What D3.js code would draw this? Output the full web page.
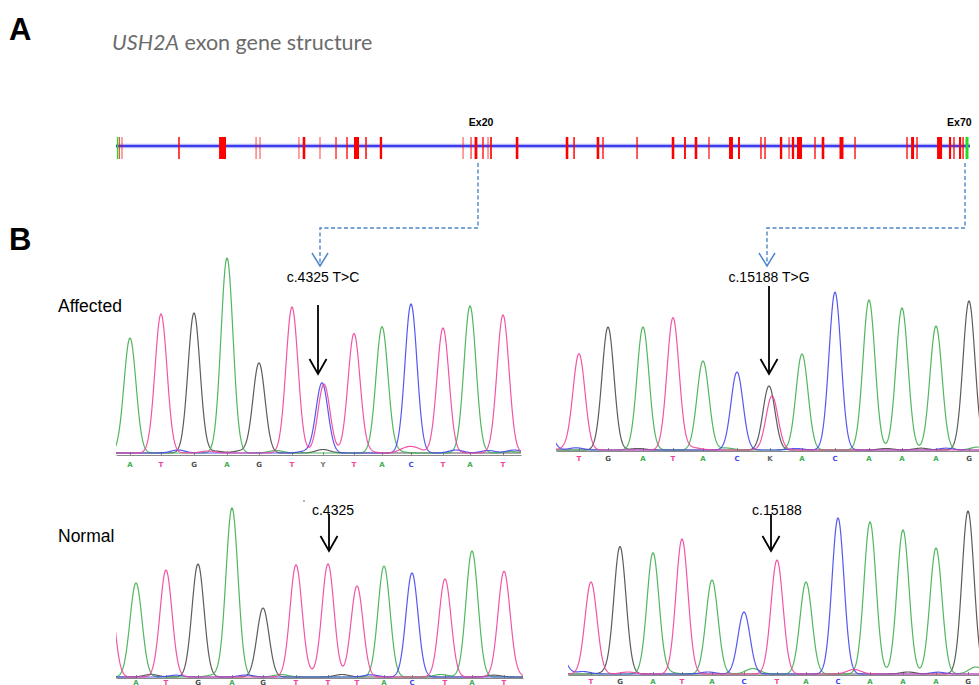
<!DOCTYPE html>
<html>
<head>
<meta charset="utf-8">
<script src="https://cdn.jsdelivr.net/npm/d3@7/dist/d3.min.js"></script>
<style>
  html, body { margin: 0; padding: 0; background: #fff; }
  svg { display: block; }
</style>
</head>
<body>
<svg id="fig" width="979" height="685"></svg>
<script>
// ---------------- DATA ----------------
// Gene structure (kb along USH2A)
const geneLengthKb = 800;
const utrCenters = [1.6, 797.2];
const utrLengths = [1.4, 2.8];
const exonCenters = [3.3, 5.6, 59.0, 99.8, 131.2, 134.9, 171.4, 176.1, 191.1, 206.1, 216.4, 225.3, 234.2, 248.2,
  325.1, 332.6, 337.2, 343.8, 348.5, 351.3, 375.7, 422.5, 429.1, 451.5, 456.2, 488.1, 521.8, 533.0, 543.3, 555.5,
  576.1, 583.6, 604.2, 608.0, 623.0, 630.5, 634.2, 640.3, 654.8, 662.3, 679.6, 692.3, 741.0, 746.2, 750.4,
  771.5, 781.3, 785.0, 790.7, 793.5];
const exonLengths = [1.0, 1.0, 1.5, 6.5, 1.0, 1.0, 1.0, 2.4, 1.0, 1.3, 1.4, 4.7, 1.5, 2.2,
  1.0, 1.2, 2.6, 1.4, 1.0, 1.6, 2.4, 2.4, 1.5, 2.4, 1.4, 1.4, 2.4, 1.7, 2.4, 1.3,
  3.7, 1.8, 1.4, 1.4, 2.2, 1.2, 2.2, 4.7, 1.4, 2.4, 3.7, 1.4, 1.4, 2.8, 1.4,
  4.7, 2.0, 1.4, 2.0, 1.4];
const exonLabels = ["Ex20", "Ex70"];
const exonLabelKb = [342.0, 790.0];

// Chromatograms: base calls, peak channel / scan position / signal
const affLBases = ["A","T","G","A","G","T","Y","T","A","C","T","A","T"];
const affLCallPos = [14, 45, 78, 111, 143, 176, 207, 238, 266, 295, 327, 354, 387];
const affLPeakCh  = ["A","T","G","A","G","T","C","T","T","A","C","T","A","T"];
const affLPeakPos = [14, 45, 78, 111, 143, 176, 206, 208, 238, 266, 295, 327, 354, 387];
const affLPeakSig = [1150, 1390, 1400, 1950, 900, 1460, 700, 690, 1190, 1260, 1490, 1250, 1470, 1380];
const affLNoiseCh  = ["C","T","G","A","G","T","T","C","C","A","A","C","G","T","C"];
const affLNoisePos = [62, 92, 125, 160, 207, 290, 300, 340, 372, 280, 395, 398, 100, 250, 190];
const affLNoiseSig = [30, 20, 22, 25, 35, 45, 40, 30, 25, 20, 15, 30, 18, 20, 18];

const affRBases = ["T","G","A","T","A","C","K","A","C","A","A","A","G"];
const affRCallPos = [23, 52, 87, 117, 147, 181, 214, 246, 279, 313, 346, 380, 413];
const affRPeakCh  = ["C","T","G","A","T","A","C","G","T","A","C","A","A","A","G"];
const affRPeakPos = [-10, 23, 52, 87, 117, 147, 181, 213, 216, 246, 279, 313, 346, 380, 413];
const affRPeakSig = [270, 960, 1230, 1230, 1320, 890, 780, 640, 540, 960, 1560, 1500, 1420, 1240, 1490];
const affRNoiseCh  = ["C","T","G","T","A","C","G","C","A","T","G","C"];
const affRNoisePos = [20, 10, 82, 130, 170, 280, 330, 390, 422, 140, 365, 240];
const affRNoiseSig = [22, 18, 15, 18, 20, 18, 15, 18, 30, 15, 18, 15];

const normLBases = ["A","T","G","A","G","T","T","T","A","C","T","A","T"];
const normLCallPos = [20, 50, 82, 116, 147, 180, 212, 241, 268, 296, 329, 356, 388];
const normLPeakCh  = ["T","A","T","G","A","G","T","T","T","A","C","T","A","T"];
const normLPeakPos = [-8, 20, 50, 82, 116, 147, 180, 212, 241, 268, 296, 329, 356, 388];
const normLPeakSig = [1000, 940, 1070, 1130, 1690, 690, 1120, 1130, 910, 1110, 1040, 980, 1260, 1050];
const normLNoiseCh  = ["G","C","A","C","A","T","G","C","A","G","T"];
const normLNoisePos = [35, 60, 98, 130, 165, 195, 226, 255, 325, 378, 398];
const normLNoiseSig = [25, 18, 20, 20, 25, 18, 25, 22, 25, 18, 20];

const normRBases = ["T","G","A","T","A","C","T","A","C","A","A","A","G"];
const normRCallPos = [23, 52, 85, 114, 144, 176, 209, 238, 270, 302, 335, 368, 400];
const normRPeakCh  = ["C","T","G","A","T","A","C","T","A","C","A","A","A","G"];
const normRPeakPos = [-8, 23, 52, 85, 114, 144, 176, 209, 238, 270, 302, 335, 368, 400];
const normRPeakSig = [200, 920, 1270, 1210, 1350, 940, 620, 1140, 920, 1560, 1520, 1440, 1260, 1630];
const normRNoiseCh  = ["A","T","C","G","C","A","T","G","A","C"];
const normRNoisePos = [185, 286, 15, 40, 140, 100, 60, 340, 408, 370];
const normRNoiseSig = [55, 45, 25, 20, 20, 18, 20, 20, 70, 18];

const mutationLabels = ["c.4325 T>C", "c.15188 T>G", "c.4325", "c.15188"];
const rowLabels = ["Affected", "Normal"];
const panelLetters = ["A", "B"];

// ---------------- DRAW ----------------
const svg = d3.select("#fig");
const W = 979, H = 685;
const baseColor = {A: "#3fae4f", T: "#f0449c", G: "#4a4a4a", C: "#4646ee", Y: "#777", K: "#666"};

// panel letters
svg.append("text").attr("x", 9).attr("y", 40).text(panelLetters[0])
  .attr("font-family", "Liberation Sans, Arial, sans-serif").attr("font-weight", "bold").attr("font-size", 31).attr("fill", "#000");
svg.append("text").attr("x", 9).attr("y", 250).text(panelLetters[1])
  .attr("font-family", "Liberation Sans, Arial, sans-serif").attr("font-weight", "bold").attr("font-size", 31).attr("fill", "#000");

// title
const title = svg.append("text").attr("x", 112).attr("y", 50)
  .attr("font-family", "Lato, 'Open Sans', sans-serif").attr("font-size", 21.5).attr("fill", "#6b6b6b");
title.append("tspan").attr("font-style", "italic").text("USH2A");
title.append("tspan").text(" exon gene structure");

// gene structure
const gx = d3.scaleLinear().domain([0, geneLengthKb]).range([116, 970]);
const geneY = 146;
const gene = svg.append("g");
gene.append("line").attr("x1", gx(0)).attr("x2", gx(geneLengthKb)).attr("y1", geneY).attr("y2", geneY)
  .attr("stroke", "#b4b4f6").attr("stroke-width", 4.5);
gene.append("line").attr("x1", gx(0)).attr("x2", gx(geneLengthKb)).attr("y1", geneY).attr("y2", geneY)
  .attr("stroke", "#3b3bf0").attr("stroke-width", 1.8);
gene.selectAll("rect.exon").data(exonCenters).join("rect").attr("class", "exon")
  .attr("x", (d, i) => gx(d - exonLengths[i] / 2))
  .attr("width", (d, i) => gx(exonLengths[i]) - gx(0))
  .attr("y", 137).attr("height", 22)
  .attr("fill", "#ff0000")
  .attr("fill-opacity", (d, i) => Math.min(1, 0.25 + (gx(exonLengths[i]) - gx(0)) / 2.4));
gene.selectAll("rect.utr").data(utrCenters).join("rect").attr("class", "utr")
  .attr("x", (d, i) => gx(d - utrLengths[i] / 2))
  .attr("width", (d, i) => gx(utrLengths[i]) - gx(0))
  .attr("y", 137).attr("height", 22).attr("fill", "#22dd22");
gene.selectAll("text.exlab").data(exonLabels).join("text").attr("class", "exlab")
  .attr("x", (d, i) => gx(exonLabelKb[i])).attr("y", 126).attr("text-anchor", "middle")
  .attr("font-family", "Liberation Sans, Arial, sans-serif").attr("font-weight", "bold").attr("font-size", 10.5)
  .text(d => d);

// dashed connectors
const dashColor = "#4f86c9";
const conn = [
  {x0: 478, x1: 320},
  {x0: 965, x1: 767}
];
conn.forEach(c => {
  svg.append("path")
    .attr("d", `M${c.x0},163 V228 H${c.x1} V265`)
    .attr("fill", "none").attr("stroke", dashColor).attr("stroke-width", 1.4).attr("stroke-dasharray", "4,2.5");
  svg.append("path")
    .attr("d", `M${c.x1 - 8},253 L${c.x1},266 L${c.x1 + 8},253`)
    .attr("fill", "none").attr("stroke", dashColor).attr("stroke-width", 1.5);
});

// row labels
svg.append("text").attr("x", 58).attr("y", 312).text(rowLabels[0])
  .attr("font-family", "Liberation Sans, Arial, sans-serif").attr("font-size", 17.5);
svg.append("text").attr("x", 58).attr("y", 542).text(rowLabels[1])
  .attr("font-family", "Liberation Sans, Arial, sans-serif").attr("font-size", 17.5);

// chromatograms
const panels = [
  {x0: 116, x1: 521, base: 453, axisY: 455, labY: 467, bases: affLBases, call: affLCallPos,
   ch: affLPeakCh.concat(affLNoiseCh), pos: affLPeakPos.concat(affLNoisePos), sig: affLPeakSig.concat(affLNoiseSig)},
  {x0: 556, x1: 979, base: 450, axisY: 451, labY: 461, bases: affRBases, call: affRCallPos,
   ch: affRPeakCh.concat(affRNoiseCh), pos: affRPeakPos.concat(affRNoisePos), sig: affRPeakSig.concat(affRNoiseSig)},
  {x0: 116, x1: 523, base: 677, axisY: 678, labY: 684.5, bases: normLBases, call: normLCallPos,
   ch: normLPeakCh.concat(normLNoiseCh), pos: normLPeakPos.concat(normLNoisePos), sig: normLPeakSig.concat(normLNoiseSig)},
  {x0: 568, x1: 979, base: 674, axisY: 675, labY: 684, bases: normRBases, call: normRCallPos,
   ch: normRPeakCh.concat(normRNoiseCh), pos: normRPeakPos.concat(normRNoisePos), sig: normRPeakSig.concat(normRNoiseSig)}
];

const defs = svg.append("defs");
panels.forEach((p, pi) => {
  const span = p.x1 - p.x0;
  const x = d3.scaleLinear().domain([0, span]).range([p.x0, p.x1]);
  const y = d3.scaleLinear().domain([0, 2000]).range([p.base, p.base - 200]);
  defs.append("clipPath").attr("id", "clip" + pi).append("rect")
    .attr("x", p.x0).attr("y", p.base - 230).attr("width", span).attr("height", 240);
  const g = svg.append("g");
  // axis
  const ax = d3.axisBottom(x).tickValues(p.call).tickSizeInner(-3).tickSizeOuter(0).tickFormat("");
  const axG = g.append("g").attr("transform", `translate(0,${p.axisY})`).call(ax);
  axG.select(".domain").attr("stroke", "#8a8a8a").attr("stroke-width", 1);
  axG.selectAll(".tick line").attr("stroke", "#8a8a8a");
  g.selectAll("text.base").data(p.bases).join("text").attr("class", "base")
    .attr("x", (d, i) => x(p.call[i])).attr("y", p.labY).attr("text-anchor", "middle")
    .attr("font-family", "DejaVu Sans, sans-serif").attr("font-size", 7).attr("font-weight", "bold")
    .attr("fill", d => baseColor[d]).text(d => d);
  // traces
  const traceG = g.append("g").attr("clip-path", `url(#clip${pi})`);
  const samples = d3.range(-2, span + 2.01, 0.5);
  ["G", "A", "C", "T"].forEach(chan => {
    const idx = p.ch.map((c, i) => c === chan ? i : -1).filter(i => i >= 0);
    const pts = samples.map(s => {
      let v = 0;
      idx.forEach(i => {
        const sd = p.sig[i] < 100 ? 7 : 6;
        const d = (s - p.pos[i]) / sd;
        v += p.sig[i] * Math.exp(-0.5 * d * d);
      });
      return [s, v];
    });
    traceG.append("path")
      .attr("d", d3.line().x(d => x(d[0])).y(d => y(d[1]))(pts))
      .attr("fill", "none").attr("stroke", baseColor[chan]).attr("stroke-width", 1.2)
      .attr("stroke-opacity", 0.9).attr("stroke-linejoin", "round");
  });
});

// mutation labels and black arrows
const mut = [
  {text: mutationLabels[0], tx: 323, ty: 282, ax: 318, y0: 305, y1: 374},
  {text: mutationLabels[1], tx: 769, ty: 282, ax: 769, y0: 286, y1: 374},
  {text: mutationLabels[2], tx: 333, ty: 515, ax: 329, y0: 514, y1: 551},
  {text: mutationLabels[3], tx: 777, ty: 515, ax: 771, y0: 514, y1: 551}
];
mut.forEach(m => {
  svg.append("text").attr("x", m.tx).attr("y", m.ty).attr("text-anchor", "middle")
    .attr("font-family", "Liberation Sans, Arial, sans-serif").attr("font-size", 14).text(m.text);
  svg.append("line").attr("x1", m.ax).attr("x2", m.ax).attr("y1", m.y0).attr("y2", m.y1 - 1)
    .attr("stroke", "#000").attr("stroke-width", 1.8);
  svg.append("path").attr("d", `M${m.ax - 8.5},${m.y1 - 15} L${m.ax},${m.y1} L${m.ax + 8.5},${m.y1 - 15}`)
    .attr("fill", "none").attr("stroke", "#000").attr("stroke-width", 1.8);
});
svg.append("circle").attr("cx", 304).attr("cy", 501).attr("r", 0.8).attr("fill", "#555");
</script>
</body>
</html>
